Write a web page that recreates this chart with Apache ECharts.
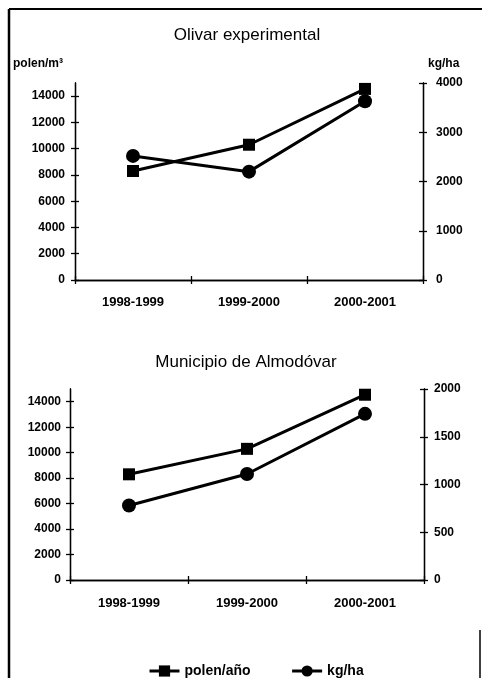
<!DOCTYPE html>
<html>
<head>
<meta charset="utf-8">
<script src="https://cdn.jsdelivr.net/npm/echarts@6/dist/echarts.min.js"></script>
<style>
html,body{margin:0;padding:0;background:#fff;}
#chart{width:482px;height:678px;}
</style>
</head>
<body>
<div id="chart"></div>
<script>
const categories = ['1998-1999', '1999-2000', '2000-2001'];
const olivarPolen = [8300, 10300, 14550];
const olivarKg = [2520, 2200, 3630];
const almodovarPolen = [8300, 10300, 14550];
const almodovarKg = [780, 1110, 1740];
const polenTicks = [0, 2000, 4000, 6000, 8000, 10000, 12000, 14000];
const olivarKgTicks = [0, 1000, 2000, 3000, 4000];
const almodovarKgTicks = [0, 500, 1000, 1500, 2000];
const titles = ['Olivar experimental', 'Municipio de Almodóvar'];
const seriesNames = ['polen/año', 'kg/ha'];

const FONT = "'Liberation Sans', Arial, sans-serif";
const AX = { color: '#000', width: 1.3 };
const plain = v => String(v);

function xAxes(grid, margin) {
  return [
    { type: 'category', gridIndex: grid, position: 'bottom', data: categories, boundaryGap: true,
      axisLine: { show: true, lineStyle: AX }, axisTick: { show: true, length: 4, lineStyle: AX },
      axisLabel: { margin: margin, color: '#000', fontFamily: FONT, fontSize: 13, fontWeight: 'bold' },
      splitLine: { show: false } },
    { type: 'category', gridIndex: grid, position: 'bottom', data: categories, boundaryGap: true,
      axisLine: { show: true, lineStyle: AX }, axisTick: { show: true, inside: true, length: 4, lineStyle: AX },
      axisLabel: { show: false }, splitLine: { show: false } }
  ];
}
function yAxes(grid, pos, max, interval, ticks, margin) {
  return [
    { type: 'value', gridIndex: grid, position: pos, min: 0, max: max, interval: interval,
      axisLine: { show: true, lineStyle: AX },
      axisTick: { show: true, length: 4, lineStyle: AX, customValues: ticks },
      axisLabel: { margin: margin, color: '#000', fontFamily: FONT, fontSize: 12, fontWeight: 'bold',
        customValues: ticks, formatter: plain },
      splitLine: { show: false } },
    { type: 'value', gridIndex: grid, position: pos, min: 0, max: max, interval: interval,
      axisLine: { show: true, lineStyle: AX },
      axisTick: { show: true, inside: true, length: 4, lineStyle: AX, customValues: ticks },
      axisLabel: { show: false }, splitLine: { show: false } }
  ];
}
function lineSeries(name, xi, yi, data, symbol, size) {
  return { name: name, type: 'line', xAxisIndex: xi, yAxisIndex: yi, data: data,
    symbol: symbol, symbolSize: size,
    lineStyle: { color: '#000', width: 3 }, itemStyle: { color: '#000' } };
}

const chart = echarts.init(document.getElementById('chart'), null, { renderer: 'canvas' });
chart.setOption({
  animation: false,
  backgroundColor: '#fff',
  title: [
    { text: titles[0], left: 247, top: 27, textAlign: 'center', padding: 0,
      textStyle: { fontFamily: FONT, fontSize: 17, fontWeight: 'normal', color: '#000' } },
    { text: titles[1], left: 246, top: 354, textAlign: 'center', padding: 0,
      textStyle: { fontFamily: FONT, fontSize: 17, fontWeight: 'normal', color: '#000' } },
    { text: 'polen/m³', left: 13, top: 58, padding: 0,
      textStyle: { fontFamily: FONT, fontSize: 12, fontWeight: 'bold', color: '#000' } },
    { text: 'kg/ha', left: 428, top: 58, padding: 0,
      textStyle: { fontFamily: FONT, fontSize: 12, fontWeight: 'bold', color: '#000' } }
  ],
  legend: {
    data: seriesNames, left: 143, top: 659, itemWidth: 30, itemHeight: 14, itemGap: 40,
    lineStyle: { width: 3, color: '#000' },
    textStyle: { fontFamily: FONT, fontSize: 14, fontWeight: 'bold', color: '#000' }
  },
  grid: [
    { left: 75, right: 59, top: 83, height: 197 },
    { left: 70, right: 58, top: 389, height: 191 }
  ],
  xAxis: [].concat(xAxes(0, 16), xAxes(1, 17)),
  yAxis: [].concat(
    yAxes(0, 'left', 15000, 2000, polenTicks, 10),
    yAxes(0, 'right', 4000, 1000, olivarKgTicks, 13),
    yAxes(1, 'left', 15000, 2000, polenTicks, 9),
    yAxes(1, 'right', 2000, 500, almodovarKgTicks, 10)
  ),
  series: [
    lineSeries(seriesNames[0], 0, 0, olivarPolen, 'rect', 12),
    lineSeries(seriesNames[1], 0, 2, olivarKg, 'circle', 14),
    lineSeries(seriesNames[0], 2, 4, almodovarPolen, 'rect', 12),
    lineSeries(seriesNames[1], 2, 6, almodovarKg, 'circle', 14)
  ],
  graphic: [
    { type: 'line', shape: { x1: 9, y1: 9, x2: 482, y2: 9 }, style: { stroke: '#000', lineWidth: 2 } },
    { type: 'line', shape: { x1: 9, y1: 9, x2: 9, y2: 678 }, style: { stroke: '#000', lineWidth: 2.5 } },
    { type: 'line', shape: { x1: 480, y1: 630, x2: 480, y2: 678 }, style: { stroke: '#000', lineWidth: 1.5 } }
  ]
});
</script>
</body>
</html>
